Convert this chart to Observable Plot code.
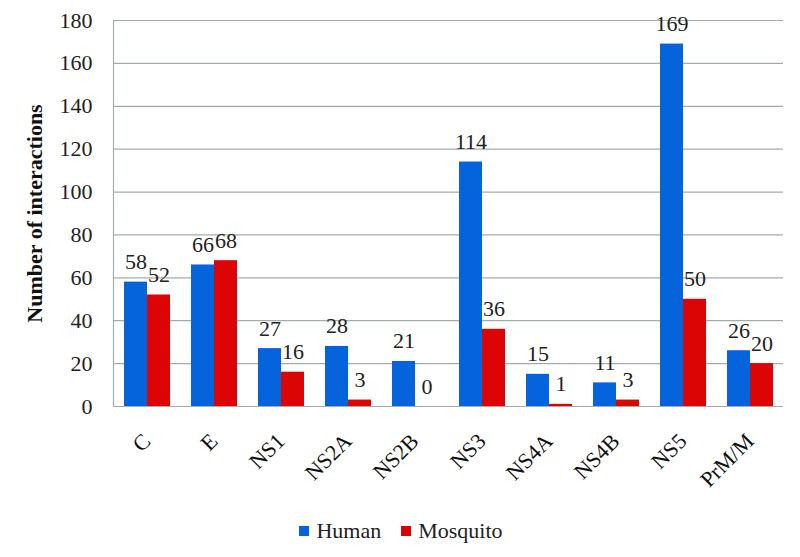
<!DOCTYPE html>
<html>
<head>
<meta charset="utf-8">
<script src="https://cdn.jsdelivr.net/npm/d3@7"></script>
<script src="https://cdn.jsdelivr.net/npm/@observablehq/plot@0.6"></script>
<style>
  html, body { margin: 0; padding: 0; background: #fff; }
  #wrap { width: 800px; height: 557px; font-family: "Liberation Serif", "Times New Roman", serif; }
  #legend { height: 52px; display: flex; justify-content: center; align-items: center; font-family: "Liberation Serif", "Times New Roman", serif; font-size: 22px; color: #222; padding-left: 2px; box-sizing: border-box; padding-bottom: 0px; }
  .item { display: flex; align-items: center; margin: 0 10px; }
  .sw { width: 10px; height: 10px; margin-right: 7px; }
</style>
</head>
<body>
<div id="wrap"><div id="chart"></div><div id="legend"></div></div>
<script>
const categories = ["C", "E", "NS1", "NS2A", "NS2B", "NS3", "NS4A", "NS4B", "NS5", "PrM/M"];
const human = [58, 66, 27, 28, 21, 114, 15, 11, 169, 26];
const mosquito = [52, 68, 16, 3, 0, 36, 1, 3, 50, 20];
const seriesNames = ["Human", "Mosquito"];
const seriesColors = ["#0564dc", "#dc0505"];
const yTicks = [0, 20, 40, 60, 80, 100, 120, 140, 160, 180];
const yTitle = "Number of interactions";

const table = categories.flatMap((c, i) => [
  {cat: c, series: "Human", value: human[i]},
  {cat: c, series: "Mosquito", value: mosquito[i]}
]);

const grid = "#a4adad";
const serif = "'Liberation Serif', 'Times New Roman', serif";

const chart = Plot.plot({
  width: 800,
  height: 505,
  marginLeft: 113,
  marginRight: 17,
  marginTop: 20,
  marginBottom: 99,
  style: {fontFamily: serif, fontSize: "22px", color: "#222", background: "white"},
  fx: {domain: categories, padding: 0, axis: null},
  x: {domain: seriesNames, paddingInner: 0, paddingOuter: 0.396, axis: null},
  y: {domain: [0, 180], axis: null},
  color: {domain: seriesNames, range: seriesColors},
  marks: [
    Plot.ruleY(yTicks, {stroke: grid, strokeWidth: 1.2}),
    Plot.frame({anchor: "left", stroke: grid, strokeWidth: 1.2, facet: "super"}),
    Plot.barY(table, {fx: "cat", x: "series", y: "value", fill: "series"}),
    Plot.text(table, {fx: "cat", x: "series", y: "value", text: d => String(d.value), lineAnchor: "bottom", dy: -13, fill: "#222", fontSize: 22, fontFamily: serif}),
    Plot.text(categories, {fx: d => d, text: d => d, frameAnchor: "bottom", rotate: -45, textAnchor: "end", dy: 36, dx: 5, fill: "#111", fontSize: 22, fontFamily: serif}),
    Plot.axisY({ticks: yTicks, tickSize: 0, tickPadding: 21, tickFormat: d => String(d), label: null, fontSize: 22, fontFamily: serif, fill: "#222"}),
    Plot.text([yTitle], {fx: () => categories[0], frameAnchor: "left", textAnchor: "middle", lineAnchor: "middle", rotate: -90, dx: -79, fontWeight: "bold", fontSize: 22, fontFamily: serif, fill: "#111"})
  ]
});
document.getElementById("chart").appendChild(chart);

const legend = document.getElementById("legend");
seriesNames.forEach((name, i) => {
  const item = document.createElement("div");
  item.className = "item";
  const sw = document.createElement("div");
  sw.className = "sw";
  sw.style.background = seriesColors[i];
  const label = document.createElement("span");
  label.textContent = name;
  item.appendChild(sw);
  item.appendChild(label);
  legend.appendChild(item);
});
</script>
</body>
</html>
